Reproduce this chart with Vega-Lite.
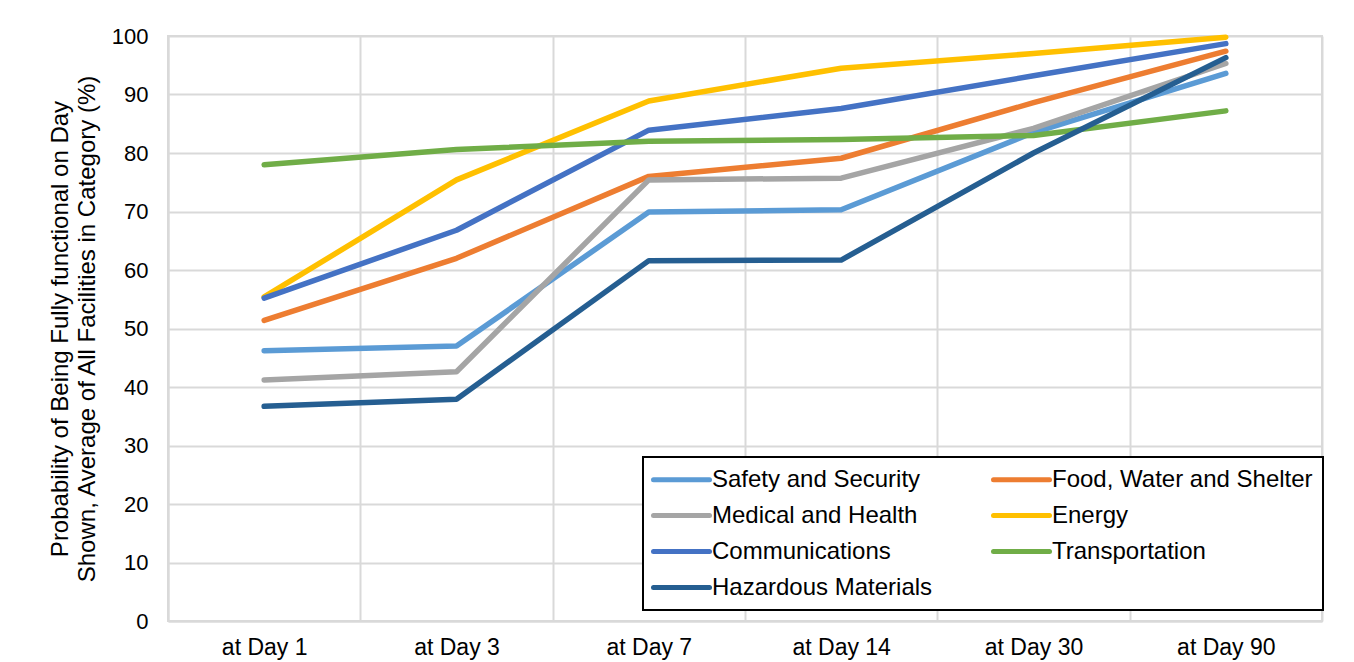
{
  "$schema": "https://vega.github.io/schema/vega-lite/v6.json",
  "width": 1154,
  "height": 585,
  "autosize": {"type": "none"},
  "padding": {"left": 168, "top": 36, "right": 32, "bottom": 41},
  "background": "white",
  "config": {
    "font": "Liberation Sans",
    "view": {"stroke": "#d9d9d9", "strokeWidth": 2}
  },
  "data": {
    "values": [
      {"day": "at Day 1", "cat": "Safety and Security", "v": 46.2},
      {"day": "at Day 3", "cat": "Safety and Security", "v": 47.0},
      {"day": "at Day 7", "cat": "Safety and Security", "v": 69.9},
      {"day": "at Day 14", "cat": "Safety and Security", "v": 70.3},
      {"day": "at Day 30", "cat": "Safety and Security", "v": 83.5},
      {"day": "at Day 90", "cat": "Safety and Security", "v": 93.6},
      {"day": "at Day 1", "cat": "Food, Water and Shelter", "v": 51.4},
      {"day": "at Day 3", "cat": "Food, Water and Shelter", "v": 62.0},
      {"day": "at Day 7", "cat": "Food, Water and Shelter", "v": 76.0},
      {"day": "at Day 14", "cat": "Food, Water and Shelter", "v": 79.1},
      {"day": "at Day 30", "cat": "Food, Water and Shelter", "v": 88.6},
      {"day": "at Day 90", "cat": "Food, Water and Shelter", "v": 97.4},
      {"day": "at Day 1", "cat": "Medical and Health", "v": 41.2},
      {"day": "at Day 3", "cat": "Medical and Health", "v": 42.6},
      {"day": "at Day 7", "cat": "Medical and Health", "v": 75.4},
      {"day": "at Day 14", "cat": "Medical and Health", "v": 75.7},
      {"day": "at Day 30", "cat": "Medical and Health", "v": 84.2},
      {"day": "at Day 90", "cat": "Medical and Health", "v": 95.3},
      {"day": "at Day 1", "cat": "Energy", "v": 55.4},
      {"day": "at Day 3", "cat": "Energy", "v": 75.4},
      {"day": "at Day 7", "cat": "Energy", "v": 88.9},
      {"day": "at Day 14", "cat": "Energy", "v": 94.5},
      {"day": "at Day 30", "cat": "Energy", "v": 97.0},
      {"day": "at Day 90", "cat": "Energy", "v": 99.8},
      {"day": "at Day 1", "cat": "Communications", "v": 55.2},
      {"day": "at Day 3", "cat": "Communications", "v": 66.8},
      {"day": "at Day 7", "cat": "Communications", "v": 83.9},
      {"day": "at Day 14", "cat": "Communications", "v": 87.6},
      {"day": "at Day 30", "cat": "Communications", "v": 93.2},
      {"day": "at Day 90", "cat": "Communications", "v": 98.7},
      {"day": "at Day 1", "cat": "Transportation", "v": 78.0},
      {"day": "at Day 3", "cat": "Transportation", "v": 80.6},
      {"day": "at Day 7", "cat": "Transportation", "v": 82.0},
      {"day": "at Day 14", "cat": "Transportation", "v": 82.3},
      {"day": "at Day 30", "cat": "Transportation", "v": 83.0},
      {"day": "at Day 90", "cat": "Transportation", "v": 87.2},
      {"day": "at Day 1", "cat": "Hazardous Materials", "v": 36.7},
      {"day": "at Day 3", "cat": "Hazardous Materials", "v": 37.9},
      {"day": "at Day 7", "cat": "Hazardous Materials", "v": 61.6},
      {"day": "at Day 14", "cat": "Hazardous Materials", "v": 61.7},
      {"day": "at Day 30", "cat": "Hazardous Materials", "v": 80.0},
      {"day": "at Day 90", "cat": "Hazardous Materials", "v": 96.3}
    ]
  },
  "mark": {"type": "line", "strokeWidth": 5.5, "strokeCap": "round", "strokeJoin": "round"},
  "encoding": {
    "x": {
      "field": "day",
      "type": "nominal",
      "sort": ["at Day 1", "at Day 3", "at Day 7", "at Day 14", "at Day 30", "at Day 90"],
      "scale": {"type": "band", "paddingInner": 0, "paddingOuter": 0},
      "axis": {
        "title": null,
        "labelAngle": 0,
        "labelFontSize": 23,
        "labelColor": "#000000",
        "labelPadding": 15,
        "ticks": false,
        "tickBand": "extent",
        "grid": true,
        "gridColor": "#d9d9d9",
        "gridWidth": 2,
        "domainColor": "#d9d9d9",
        "domainWidth": 2
      }
    },
    "y": {
      "field": "v",
      "type": "quantitative",
      "scale": {"domain": [0, 100], "nice": false},
      "axis": {
        "values": [0, 10, 20, 30, 40, 50, 60, 70, 80, 90, 100],
        "title": ["Probability of Being Fully functional on Day", "Shown, Average of All Facilities in Category (%)"],
        "titleFontSize": 24,
        "titleFontWeight": "normal",
        "titleColor": "#000000",
        "titlePadding": 12,
        "titleLineHeight": 27,
        "labelFontSize": 22,
        "labelColor": "#000000",
        "labelPadding": 20,
        "ticks": false,
        "grid": true,
        "gridColor": "#d9d9d9",
        "gridWidth": 2,
        "domainColor": "#d9d9d9",
        "domainWidth": 2
      }
    },
    "color": {
      "field": "cat",
      "type": "nominal",
      "scale": {
        "domain": ["Safety and Security", "Food, Water and Shelter", "Medical and Health", "Energy", "Communications", "Transportation", "Hazardous Materials"],
        "range": ["#5B9BD5", "#ED7D31", "#A5A5A5", "#FFC000", "#4472C4", "#70AD47", "#255E91"]
      },
      "legend": {
        "title": null,
        "orient": "none",
        "direction": "horizontal",
        "legendX": 475,
        "legendY": 421,
        "columns": 2,
        "columnPadding": 50,
        "rowPadding": 11,
        "padding": 10,
        "strokeColor": "#000000",
        "fillColor": "#ffffff",
        "symbolType": "M-2.8,0H2.8",
        "symbolSize": 400,
        "symbolOffset": 16,
        "symbolStrokeWidth": 5,
        "labelFontSize": 24,
        "labelColor": "#000000",
        "labelOffset": 18,
        "labelLimit": 400,
        "encode": {
          "legend": {"update": {"strokeWidth": {"value": 2}}},
          "symbols": {"update": {"strokeCap": {"value": "round"}}}
        }
      }
    }
  }
}
